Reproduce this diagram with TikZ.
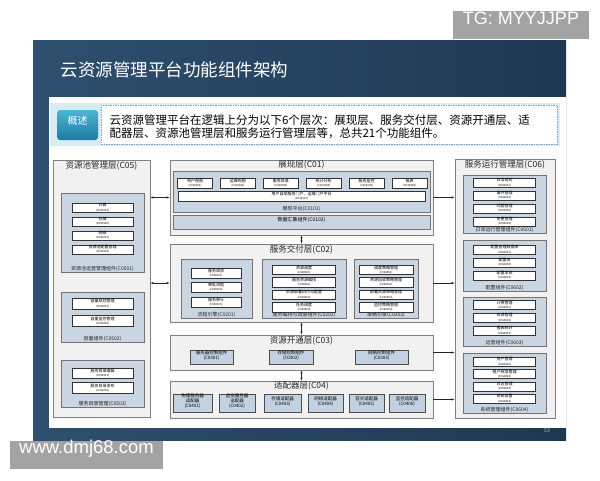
\documentclass[tikz,border=0pt]{standalone}
\usepackage{fontspec}
\setmainfont{Noto Sans CJK SC}
\newfontfamily\wmfont{Liberation Sans}
\usepackage{tikz}
\usetikzlibrary{arrows.meta, positioning, fit}

\definecolor{navyL}{HTML}{2E4F6E}
\definecolor{navyD}{HTML}{1E3852}
\definecolor{band}{HTML}{D6EDF2}
\definecolor{btnT}{HTML}{4FB4D4}
\definecolor{btnB}{HTML}{1B7CA3}
\definecolor{dashc}{HTML}{8AA6B6}
\definecolor{lay}{HTML}{F1F1F1}
\definecolor{grp}{HTML}{C9D6E2}
\definecolor{unitc}{HTML}{C3D2E1}
\definecolor{wm}{HTML}{A3A3A3}

\newcommand{\itm}[2]{#1\\{\fontsize{2.8}{3}\selectfont(#2)}}

\begin{document}
\begin{tikzpicture}[
	x=1pt, y=-1pt,
	layer/.style={draw=black!50, fill=lay, line width=0.6pt, inner sep=0pt},
	grp/.style={draw=black!55, fill=grp, line width=0.5pt, inner sep=0pt},
	cell/.style 2 args={draw=black!80, fill=white, line width=0.4pt, inner sep=0pt, align=center,
		font=\fontsize{4}{4.3}\selectfont, minimum width=#1, minimum height=#2},
	unit/.style={draw=black!70, fill=unitc, line width=0.5pt, inner sep=0pt, align=center,
		font=\fontsize{4.5}{4.9}\selectfont},
	ttl/.style={anchor=north, inner sep=1pt, font=\fontsize{8.5}{9}\selectfont, text=black!85},
	grpcap/.style={anchor=south, inner sep=1pt, font=\fontsize{5}{5.5}\selectfont, text=black!85},
	link/.style={-{Latex[length=3pt, width=2.2pt]}, line width=0.5pt, black!85},
	dlink/.style={{Latex[length=3pt, width=2.2pt]}-{Latex[length=3pt, width=2.2pt]}, line width=0.5pt, black!85},
	]
	
	% Page and slide
	\useasboundingbox (0,0) rectangle (600,480);
	\fill[white] (0,0) rectangle (600,480);
	\shade[left color=navyL, right color=navyD] (33,40) rectangle (566,440);
	\node[anchor=west, text=white, font=\fontsize{17.5}{20}\selectfont] (title) at (57,70) {云资源管理平台功能组件架构};
	\fill[white] (49,97) rectangle (566,428);
	\node[text=white!65!navyD, font=\fontsize{5}{5}\selectfont] (page) at (547,431) {53};
	
	% Summary band
	\fill[band] (50,103) rectangle (560,146);
	\node[rounded corners=3pt, top color=btnT, bottom color=btnB, text=white, inner sep=0pt,
		font=\fontsize{10}{10}\selectfont, fit={(57,110) (98,140)}] (brief) {概述};
	\node[draw=dashc, dash pattern=on 1.5pt off 1pt, fill=white, inner sep=0pt, fit={(101,105) (557,144)}] (briefbox) {};
	\node[anchor=west, align=left, font=\fontsize{11.5}{13.5}\selectfont] (brieftxt) at (106,126.5)
	{云资源管理平台在逻辑上分为以下6个层次：展现层、服务交付层、资源开通层、适\\配器层、资源池管理层和服务运行管理层等，总共21个功能组件。};
	
	% Resource pool layer (left)
	\node[layer, fit={(53,160) (150,417)}, label={[ttl]north:资源池管理层(C05)}] (c05) {};
	\node[grp, fit={(61,193) (144,272)}, label={[grpcap]south:资源池运营管理组件(C0501)}] (c0501) {};
	\node[cell={61pt}{9pt}] (p1) at (102.5,207.5) {\itm{计算}{C050101}};
	\node[cell={61pt}{9pt}, below=4.5pt of p1] (p2) {\itm{存储}{C050102}};
	\node[cell={61pt}{9pt}, below=4.5pt of p2] (p3) {\itm{网络}{C050103}};
	\node[cell={61pt}{9pt}, below=4.5pt of p3] (p4) {\itm{资源池配置管理}{C050104}};
	\node[grp, fit={(61,292) (144,342)}, label={[grpcap]south:容量组件(C0502)}] (c0502) {};
	\node[cell={61pt}{11pt}] (q1) at (102.5,303.5) {\itm{容量规划管理}{C050201}};
	\node[cell={61pt}{11pt}, below=6pt of q1] (q2) {\itm{容量监控管理}{C050202}};
	\node[grp, fit={(61,360) (144,407)}, label={[grpcap]south:服务目录管理(C0503)}] (c0503) {};
	\node[cell={61pt}{10.5pt}] (r1) at (102.5,373) {\itm{服务目录编辑}{C050301}};
	\node[cell={61pt}{10.5pt}, below=4pt of r1] (r2) {\itm{服务目录发布}{C050302}};
	
	% Presentation layer
	\node[layer, fit={(170,160) (433,235)}, label={[ttl]north:展现层(C01)}] (c01) {};
	\node[grp, fit={(173,171) (430,212)}, label={[grpcap]south:展现平台(C0101)}] (c0101) {};
	\node[cell={35pt}{10pt}] (v1) at (195,183) {\itm{用户视图}{C010101}};
	\node[cell={35pt}{10pt}, right=7.5pt of v1] (v2) {\itm{运维视图}{C010102}};
	\node[cell={35pt}{10pt}, right=7.5pt of v2] (v3) {\itm{服务目录}{C010103}};
	\node[cell={35pt}{10pt}, right=7.5pt of v3] (v4) {\itm{统计分析}{C010104}};
	\node[cell={35pt}{10pt}, right=7.5pt of v4] (v5) {\itm{服务监控}{C010105}};
	\node[cell={35pt}{10pt}, right=7.5pt of v5] (v6) {\itm{报表}{C010106}};
	\node[cell={247pt}{10pt}] (v7) at (301.5,196) {\itm{用户自助服务门户、运维门户平台}{C010107}};
	\node[grp, fit={(173,215) (430,229)}, font=\fontsize{5}{5.5}\selectfont] (c0102) {数据汇集组件(C0102)};
	
	% Service delivery layer
	\node[layer, fit={(170,244) (433,322)}, label={[ttl]north:服务交付层(C02)}] (c02) {};
	\node[grp, fit={(181,259) (252,318)}, label={[grpcap]south:流程引擎(C0201)}] (c0201) {};
	\node[cell={50pt}{10pt}] (f1) at (216,273) {\itm{服务请求}{C020101}};
	\node[cell={50pt}{10pt}, below=4pt of f1] (f2) {\itm{审批流程}{C020102}};
	\node[cell={50pt}{10pt}, below=4pt of f2] (f3) {\itm{服务审计}{C020103}};
	\node[grp, fit={(262,259) (346,318)}, label={[grpcap]south:服务编排与调度组件(C0202)}] (c0202) {};
	\node[cell={63pt}{9.5pt}] (g1) at (304,269.75) {\itm{资源调度}{C020201}};
	\node[cell={63pt}{9.5pt}, below=2.5pt of g1] (g2) {\itm{服务资源编排}{C020202}};
	\node[cell={63pt}{9.5pt}, below=2.5pt of g2] (g3) {\itm{资源部署执行与配置}{C020203}};
	\node[cell={63pt}{9.5pt}, below=2.5pt of g3] (g4) {\itm{任务调度}{C020204}};
	\node[grp, fit={(354,259) (418,318)}, label={[grpcap]south:策略引擎(C0203)}] (c0203) {};
	\node[cell={54pt}{9.5pt}] (s1) at (386,269.75) {\itm{调度策略管理}{C020301}};
	\node[cell={54pt}{9.5pt}, below=2.5pt of s1] (s2) {\itm{资源回收策略管理}{C020302}};
	\node[cell={54pt}{9.5pt}, below=2.5pt of s2] (s3) {\itm{部署资源策略管理}{C020303}};
	\node[cell={54pt}{9.5pt}, below=2.5pt of s3] (s4) {\itm{监控策略管理}{C020304}};
	
	% Resource provisioning layer
	\node[layer, fit={(170,335) (433,370)}, label={[ttl]north:资源开通层(C03)}] (c03) {};
	\node[unit, fit={(190,350) (233,364)}] (c0301) {服务器控制组件\\(C0301)};
	\node[unit, fit={(269,350) (313,364)}] (c0302) {存储控制组件\\(C0302)};
	\node[unit, fit={(355,350) (408,364)}] (c0303) {网络控制组件\\(C0303)};
	
	% Adapter layer
	\node[layer, fit={(170,381) (433,418)}, label={[ttl]north:适配器层(C04)}] (c04) {};
	\node[unit, fit={(173,394) (212,412)}] (c0401) {物理服务器\\适配器\\(C0401)};
	\node[unit, fit={(219,394) (255,412)}] (c0402) {虚拟服务器\\适配器\\(C0402)};
	\node[unit, fit={(264,394) (301,412)}] (c0403) {存储适配器\\(C0403)};
	\node[unit, fit={(308,394) (343,412)}] (c0404) {网络适配器\\(C0404)};
	\node[unit, fit={(349,394) (384,412)}] (c0405) {容灾适配器\\(C0405)};
	\node[unit, fit={(389,394) (425,412)}] (c0406) {监控适配器\\(C0406)};
	
	% Service operation layer (right)
	\node[layer, fit={(455,159) (555,418)}, label={[ttl]north:服务运行管理层(C06)}] (c06) {};
	\node[grp, fit={(463,175) (546,233)}, label={[grpcap]south:日常运行管理组件(C0601)}] (c0601) {};
	\node[cell={62pt}{9pt}] (d1) at (504.5,182.5) {\itm{日常巡检}{C060101}};
	\node[cell={62pt}{9pt}, below=3.5pt of d1] (d2) {\itm{事件管理}{C060102}};
	\node[cell={62pt}{9pt}, below=3.5pt of d2] (d3) {\itm{问题管理}{C060103}};
	\node[cell={62pt}{9pt}, below=3.5pt of d3] (d4) {\itm{变更管理}{C060104}};
	\node[grp, fit={(463,240) (546,291)}, label={[grpcap]south:配置组件(C0602)}] (c0602) {};
	\node[cell={62pt}{9pt}] (k1) at (504.5,249.5) {\itm{配置管理数据库}{C060201}};
	\node[cell={62pt}{9pt}, below=3.5pt of k1] (k2) {\itm{配置库}{C060202}};
	\node[cell={62pt}{9pt}, below=3.5pt of k2] (k3) {\itm{配置发现}{C060203}};
	\node[grp, fit={(463,297) (546,346)}, label={[grpcap]south:运营组件(C0603)}] (c0603) {};
	\node[cell={62pt}{9.5pt}] (m1) at (504.5,304.75) {\itm{计费管理}{C060301}};
	\node[cell={62pt}{9.5pt}, below=3pt of m1] (m2) {\itm{资源管理}{C060302}};
	\node[cell={62pt}{9.5pt}, below=3pt of m2] (m3) {\itm{报表统计}{C060303}};
	\node[grp, fit={(463,353) (546,413)}, label={[grpcap]south:系统管理组件(C0604)}] (c0604) {};
	\node[cell={62pt}{9pt}] (n1) at (504.5,361.5) {\itm{用户管理}{C060401}};
	\node[cell={62pt}{9pt}, below=3pt of n1] (n2) {\itm{租户权限管理}{C060402}};
	\node[cell={62pt}{9pt}, below=3pt of n2] (n3) {\itm{日志管理}{C060403}};
	\node[cell={62pt}{9pt}, below=3pt of n3] (n4) {\itm{系统设置}{C060404}};
	
	% Arrows between layers
	\draw[dlink] (c01) -- (c02);
	\draw[dlink] (c02) -- (c03);
	\draw[dlink] (c03) -- (c04);
	\draw[dlink] (c05.east |- c01) -- (c01);
	\draw[dlink] (c05.east |- c02) -- (c02);
	\draw[link] (c01) -- (c01 -| c06.west);
	\draw[link] (c02) -- (c02 -| c06.west);
	\draw[link] (c03) -- (c03 -| c06.west);
	\draw[link] (c04) -- (c04 -| c06.west);
	
	% Watermarks
	\node[fill=wm, text=white, inner sep=0pt, font=\wmfont\fontsize{18}{20}\selectfont, fit={(453,11) (589,39)}] (tg) {TG: MYYJJPP};
	\node[fill=wm, text=white, inner sep=0pt, font=\wmfont\fontsize{18.5}{20}\selectfont, fit={(10,441) (163,469)}] (site) {www.dmj68.com};
	
\end{tikzpicture}
\end{document}
